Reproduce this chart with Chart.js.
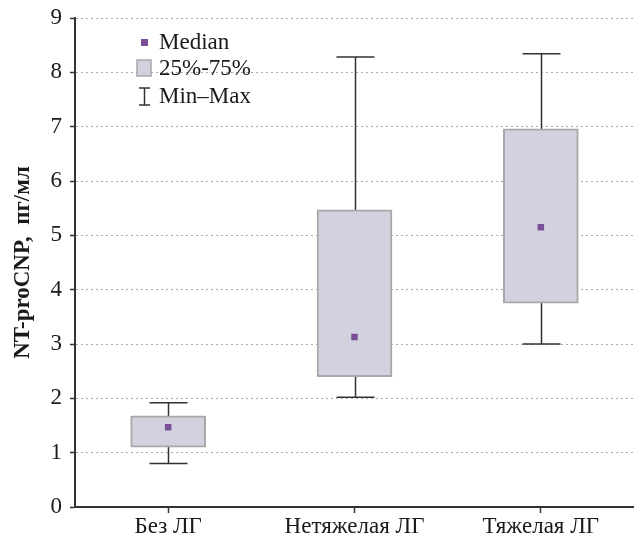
<!DOCTYPE html>
<html>
<head>
<meta charset="utf-8">
<script src="https://cdn.jsdelivr.net/npm/chart.js@4.4.1/dist/chart.umd.min.js"></script>
<style>
  html, body { margin: 0; padding: 0; background: #fff; }
  #wrap { width: 634px; height: 541px; }
</style>
</head>
<body>
<div id="wrap"><canvas id="myChart" width="634" height="541"></canvas></div>
<script>
const categories = ['Без ЛГ', 'Нетяжелая ЛГ', 'Тяжелая ЛГ'];
const minValues = [0.80, 2.02, 3.00];
const q1Values = [1.10, 2.40, 3.75];
const medianValues = [1.47, 3.13, 5.15];
const q3Values = [1.68, 5.47, 6.96];
const maxValues = [1.92, 8.28, 8.34];
const yTicks = [0, 1, 2, 3, 4, 5, 6, 7, 8, 9];

const FONT = "'Liberation Serif', 'DejaVu Serif', serif";
const BOX_FILL = '#d2d1e0';
const BOX_EDGE = '#a8a8a8';
const MEDIAN_COLOR = '#7b4f96';
const INK = '#1a1a1a';

/* whiskers drawn behind the boxes */
const whiskers = {
    id: 'whiskers',
    beforeDatasetsDraw(chart) {
        const {ctx, scales: {x, y}} = chart;
        ctx.save();
        ctx.strokeStyle = '#333';
        ctx.lineWidth = 1.5;
        categories.forEach((c, i) => {
            const px = Math.round(x.getPixelForValue(i)) + 0.5;
            const top = y.getPixelForValue(maxValues[i]);
            const bot = y.getPixelForValue(minValues[i]);
            ctx.beginPath();
            ctx.moveTo(px, top);
            ctx.lineTo(px, bot);
            ctx.moveTo(px - 19, top);
            ctx.lineTo(px + 19, top);
            ctx.moveTo(px - 19, bot);
            ctx.lineTo(px + 19, bot);
            ctx.stroke();
        });
        ctx.restore();
    }
};

/* legend in the top-left corner of the plot */
const boxLegend = {
    id: 'boxLegend',
    afterDraw(chart) {
        const ctx = chart.ctx;
        ctx.save();
        ctx.font = '23px ' + FONT;
        ctx.textBaseline = 'middle';

        ctx.fillStyle = MEDIAN_COLOR;
        ctx.fillRect(141, 39, 7, 7);
        ctx.fillStyle = INK;
        ctx.fillText('Median', 159, 43);

        ctx.fillStyle = BOX_FILL;
        ctx.fillRect(137, 60, 14, 16);
        ctx.strokeStyle = BOX_EDGE;
        ctx.lineWidth = 1.5;
        ctx.strokeRect(137, 60, 14, 16);
        ctx.fillStyle = INK;
        ctx.fillText('25%-75%', 159, 69);

        ctx.strokeStyle = '#333';
        ctx.lineWidth = 1.5;
        ctx.beginPath();
        ctx.moveTo(144.5, 88); ctx.lineTo(144.5, 105);
        ctx.moveTo(139, 88); ctx.lineTo(150, 88);
        ctx.moveTo(139, 105); ctx.lineTo(150, 105);
        ctx.stroke();
        ctx.fillText('Min–Max', 159, 97);
        ctx.restore();
    }
};

const ctx = document.getElementById('myChart').getContext('2d');
new Chart(ctx, {
    type: 'bar',
    data: {
        labels: categories,
        datasets: [{
            type: 'line',
            label: 'Median',
            data: medianValues,
            showLine: false,
            pointStyle: 'rect',
            pointRadius: 4.6,
            pointBackgroundColor: MEDIAN_COLOR,
            pointBorderColor: MEDIAN_COLOR,
            pointBorderWidth: 0,
            order: 0
        }, {
            type: 'bar',
            label: '25%-75%',
            data: q1Values.map((q, i) => [q, q3Values[i]]),
            backgroundColor: BOX_FILL,
            borderColor: BOX_EDGE,
            borderWidth: 2,
            borderSkipped: false,
            barThickness: 75,
            order: 1
        }]
    },
    options: {
        responsive: false,
        animation: false,
        layout: { autoPadding: false, padding: { top: 18, right: 0, left: 0, bottom: 0 } },
        plugins: {
            legend: { display: false },
            tooltip: { enabled: false }
        },
        scales: {
            x: {
                afterFit: axis => {
                    axis.height = 34;
                    axis.paddingLeft = 0;
                    axis.paddingRight = 0;
                },
                grid: {
                    offset: false,
                    drawOnChartArea: false,
                    drawTicks: true,
                    tickLength: 6,
                    tickColor: '#333',
                    tickWidth: 1.5
                },
                border: { color: '#333', width: 2 },
                ticks: {
                    color: INK,
                    font: { family: FONT, size: 23 },
                    padding: 0
                }
            },
            y: {
                min: 0,
                max: 9,
                afterFit: axis => {
                    axis.width = 75;
                    axis.paddingTop = 0;
                    axis.paddingBottom = 0;
                },
                afterBuildTicks: axis => { axis.ticks = yTicks.map(v => ({value: v})); },
                grid: {
                    color: ctx => ctx.tick && ctx.tick.value === 0 ? 'rgba(0,0,0,0)' : '#ababab',
                    lineWidth: 1,
                    tickLength: 5,
                    tickColor: '#333',
                    tickBorderDash: [],
                    tickWidth: 1.5
                },
                border: { color: '#333', width: 2, dash: [2, 3] },
                ticks: {
                    color: INK,
                    font: { family: FONT, size: 23 },
                    padding: 8
                },
                title: {
                    display: true,
                    text: 'NT-proCNP,  пг/мл',
                    color: INK,
                    font: { family: FONT, size: 23, weight: 'bold' },
                    padding: { top: 9, bottom: 0 }
                }
            }
        }
    },
    plugins: [whiskers, boxLegend]
});
</script>
</body>
</html>
